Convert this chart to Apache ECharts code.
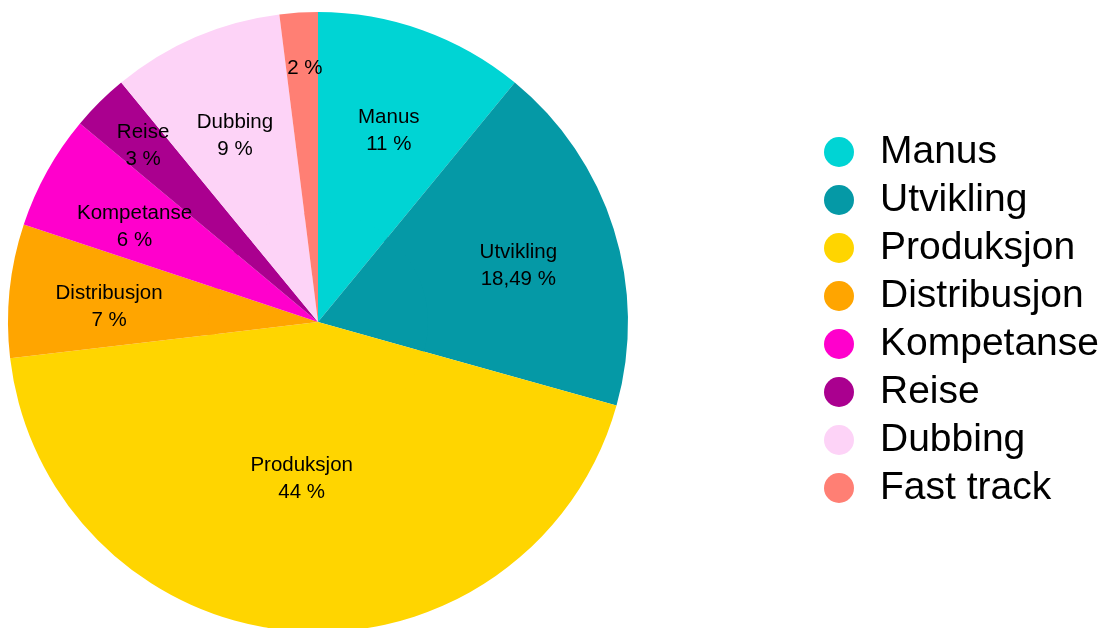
<!DOCTYPE html>
<html>
<head>
<meta charset="utf-8">
<script src="https://cdn.jsdelivr.net/npm/echarts@6/dist/echarts.min.js"></script>
<style>
html,body{margin:0;padding:0;background:#fff;}
#chart{width:1106px;height:628px;}
</style>
</head>
<body>
<div id="chart"></div>
<script>
const categories = ['Manus', 'Utvikling', 'Produksjon', 'Distribusjon', 'Kompetanse', 'Reise', 'Dubbing', 'Fast track'];
const values = [11, 18.49, 44, 7, 6, 3, 9, 2];
const colors = ['#00D4D4', '#0599A6', '#FFD500', '#FFA500', '#FF00CC', '#AA008F', '#FDD3F7', '#FF7F74'];
const showName = [true, true, true, true, true, true, true, false];

function fmt(v) { return String(v).replace('.', ',') + ' %'; }

// label placement nudges (styling only): spacer lines above/below, spacer width to the right
const labelBottom = { 'Produksjon': 'b105', 'Reise': 'b54', 'Fast track': 'b88' };
const labelRight = { 'Reise': 'w54' };

function labelText(p) {
  const name = p.name;
  const r = labelRight[name] ? '{' + labelRight[name] + '| }' : '';
  let lines = [];
  if (!labelBottom[name]) lines.push('{t12| }');
  if (showName[p.dataIndex]) lines.push(name + r);
  lines.push(fmt(p.value) + r);
  if (labelBottom[name]) lines.push('{' + labelBottom[name] + '| }');
  return lines.join('\n');
}

const ringData = categories.map((c, i) => ({ name: c, value: values[i], itemStyle: { color: colors[i] } }));
const fillData = categories.map((c, i) => ({ name: c, value: values[i], itemStyle: { color: colors[i] } }));

const chart = echarts.init(document.getElementById('chart'), null, { renderer: 'canvas' });
chart.setOption({
  animation: false,
  backgroundColor: '#ffffff',
  legend: {
    orient: 'vertical',
    left: 819,
    top: 127,
    icon: 'circle',
    itemWidth: 30,
    itemHeight: 30,
    itemGap: 8,
    textStyle: { fontFamily: 'Liberation Sans, Arial, sans-serif', fontSize: 39, lineHeight: 40, color: '#000', padding: [0, 0, 0, 21] },
    data: categories
  },
  series: [
    {
      type: 'pie',
      center: [318, 322],
      radius: [104, 310],
      startAngle: 90,
      clockwise: true,
      avoidLabelOverlap: false,
      silent: true,
      itemStyle: { borderWidth: 0 },
      labelLayout: { hideOverlap: false },
      label: {
        show: true,
        position: 'inside',
        fontFamily: 'Liberation Sans, Arial, sans-serif',
        fontSize: 20.5,
        lineHeight: 27,
        color: '#000',
        formatter: labelText,
        rich: {
          t12: { fontSize: 10, lineHeight: 13 },
          b105: { fontSize: 10, lineHeight: 105 },
          b88: { fontSize: 10, lineHeight: 88 },
          b54: { fontSize: 10, lineHeight: 54 },
          w54: { fontSize: 10, lineHeight: 27, width: 54 }
        }
      },
      labelLine: { show: false },
      data: ringData
    },
    {
      type: 'pie',
      center: [318, 322],
      radius: [0, 110],
      startAngle: 90,
      clockwise: true,
      silent: true,
      legendHoverLink: false,
      itemStyle: { borderWidth: 0 },
      label: { show: false },
      labelLine: { show: false },
      data: fillData
    }
  ]
});
</script>
</body>
</html>
